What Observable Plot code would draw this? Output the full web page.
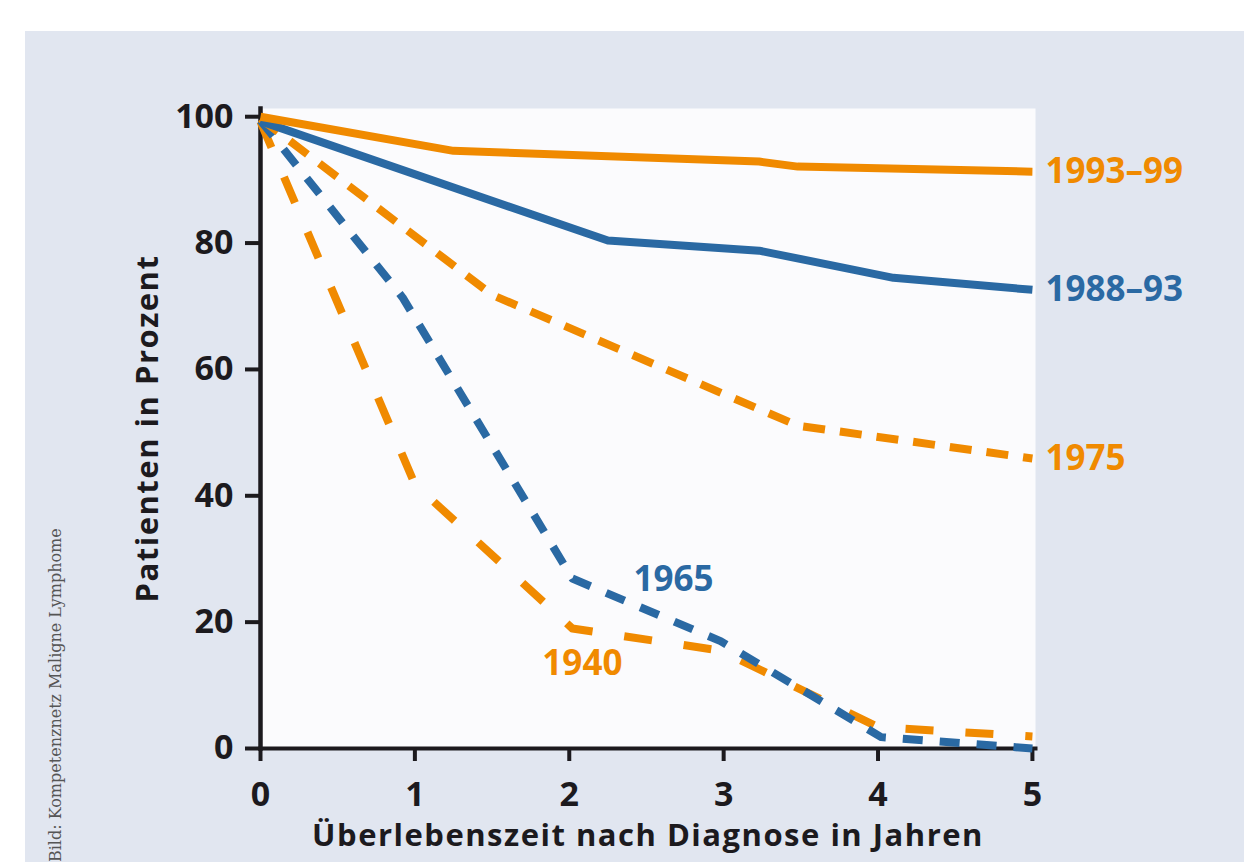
<!DOCTYPE html>
<html><head><meta charset="utf-8">
<script src="https://cdn.jsdelivr.net/npm/d3@7"></script>
<script src="https://cdn.jsdelivr.net/npm/@observablehq/plot@0.6"></script>
<style>
body{margin:0;background:#fff;width:1244px;height:862px;overflow:hidden;position:relative}
#panel{position:absolute;left:25px;top:31px;width:1219px;height:831px;background:#e1e6f0}
#chart{position:absolute;left:25px;top:31px}
#credit{position:absolute;left:48px;top:862px;transform-origin:0 0;transform:rotate(-90deg);font-family:"DejaVu Serif",serif;font-size:16px;line-height:16px;color:#555;white-space:nowrap}
</style></head>
<body>
<div id="panel"></div>
<div id="chart"></div>
<div id="credit">Bild: Kompetenznetz Maligne Lymphome</div>
<script>
// Survival curves (years after diagnosis, percent surviving)
const t1993 = [0, 1.25, 3.23, 3.48, 5];
const v1993 = [100, 94.6, 92.9, 92.1, 91.3];
const t1988 = [0, 2.25, 3.23, 4.1, 5];
const v1988 = [99.3, 80.4, 78.8, 74.5, 72.6];
const t1975 = [0, 1.5, 3.48, 5];
const v1975 = [99.7, 71.8, 51.1, 45.9];
const t1965 = [0, 0.92, 2.02, 2.98, 4.02, 5];
const v1965 = [99.4, 71.4, 26.9, 17.0, 1.8, 0];
const t1940 = [0, 1.0, 2.02, 2.98, 4.0, 5];
const v1940 = [99.2, 41.8, 19.0, 15.5, 3.4, 1.9];

const xTicks = [0, 1, 2, 3, 4, 5];
const yTicks = [0, 20, 40, 60, 80, 100];
const xTitle = "Überlebenszeit nach Diagnose in Jahren";
const yTitle = "Patienten in Prozent";

// label anchor positions (data units)
const labelNames = ["1993–99", "1988–93", "1975", "1965", "1940"];
const labelX = [5, 5, 5, 2.675, 2.085];
const labelY = [91.3, 72.6, 45.9, 26.7, 13.4];

const ORANGE = "#f08a00", BLUE = "#2a69a3", INK = "#1c1a1e";

function rows(ts, vs) { return ts.map((t, i) => ({t, v: vs[i]})); }
const labels = labelNames.map((name, i) => ({name, x: labelX[i], y: labelY[i]}));
const colorOf = d => (d.name === "1988–93" || d.name === "1965") ? BLUE : ORANGE;

const lineBase = {x: "t", y: "v", strokeWidth: 8, strokeLinejoin: "round", strokeLinecap: "butt"};

const plot = Plot.plot({
  width: 1219, height: 831,
  marginLeft: 235, marginTop: 77, marginBottom: 114, marginRight: 209,
  x: {domain: [0, 5.02]},
  y: {domain: [0, 101.3]},
  style: {fontFamily: "'Open Sans', sans-serif", fontWeight: 700, color: INK, background: "transparent"},
  marks: [
    Plot.frame({fill: "#fbfbfd", stroke: "none"}),
    Plot.axisX({ticks: xTicks, tickFormat: d => String(d), tickSize: 13, tickPadding: 20, strokeWidth: 4, fontSize: 34, fontWeight: 700, label: null}),
    Plot.axisY({ticks: yTicks, tickFormat: d => String(d), tickSize: 15, tickPadding: 12, strokeWidth: 4, fontSize: 34, fontWeight: 700, label: null}),
    Plot.frame({anchor: "left", strokeWidth: 4.5, stroke: INK}),
    Plot.frame({anchor: "bottom", strokeWidth: 4, stroke: INK}),
    Plot.text([xTitle], {text: d => d, frameAnchor: "bottom", dy: 88, textAnchor: "middle", lineAnchor: "middle", fontSize: 31, fontWeight: 700, fill: INK}),
    Plot.text([yTitle], {text: d => d, frameAnchor: "left", dx: -112, rotate: -90, textAnchor: "middle", lineAnchor: "middle", fontSize: 31, fontWeight: 700, fill: INK}),
    Plot.line(rows(t1940, v1940), {...lineBase, stroke: ORANGE, strokeDasharray: "28,32"}),
    Plot.line(rows(t1965, v1965), {...lineBase, stroke: BLUE, strokeDasharray: "20,17"}),
    Plot.line(rows(t1975, v1975), {...lineBase, stroke: ORANGE, strokeDasharray: "22,15"}),
    Plot.line(rows(t1988, v1988), {...lineBase, stroke: BLUE}),
    Plot.line(rows(t1993, v1993), {...lineBase, stroke: ORANGE}),
    Plot.text(labels.slice(0, 3), {x: "x", y: "y", text: "name", textAnchor: "start", dx: 13, lineAnchor: "middle", fontSize: 35, fontWeight: 700, fill: colorOf}),
    Plot.text(labels.slice(3), {x: "x", y: "y", text: "name", textAnchor: "middle", lineAnchor: "middle", fontSize: 35, fontWeight: 700, fill: colorOf})
  ]
});
// wider letter spacing for the axis titles, as in the original typeface
d3.select(plot).selectAll("text").filter(function() { const t = this.textContent; return t === xTitle || t === yTitle; })
  .style("letter-spacing", "1.5px");
document.getElementById("chart").appendChild(plot);
</script>
</body></html>
